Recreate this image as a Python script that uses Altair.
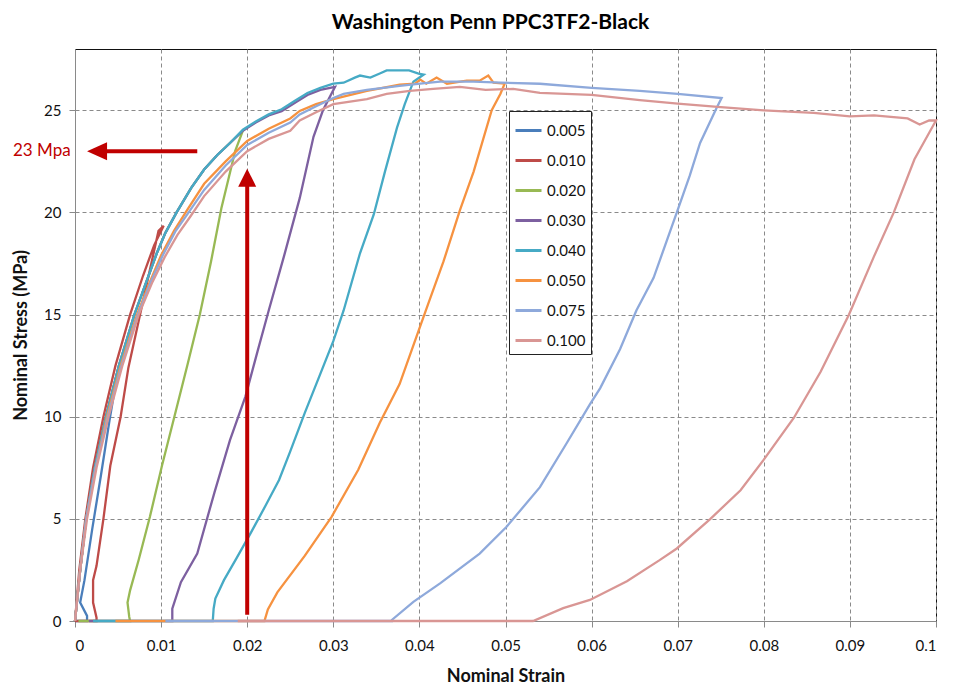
import altair as alt
import pandas as pd

# ---------------- data ----------------
series_names = ["0.005", "0.010", "0.020", "0.030", "0.040", "0.050", "0.075", "0.100"]
series_colors = ["#4A7EBB", "#BE4B48", "#98B954", "#7D60A0", "#46AAC5", "#F69240", "#8EA9DB", "#D99694"]

s005_strain = [0, 0.0006, 0.0013, 0.0023, 0.0036, 0.0050, 0.0040, 0.0030, 0.0020, 0.0011, 0.0006, 0.0014, 0.0014, 0.0]
s005_stress = [0, 2.5, 5.0, 7.5, 10.0, 12.3, 9.8, 7.1, 4.5, 2.0, 0.9, 0.25, 0, 0]

s010_strain = [0, 0.0005, 0.0012, 0.0021, 0.0033, 0.0047, 0.0064, 0.0079, 0.0092, 0.0103, 0.0097, 0.0086,
               0.0074, 0.0062, 0.0053, 0.0041, 0.0033, 0.0025, 0.0021, 0.0021, 0.0025, 0.0025, 0.0]
s010_stress = [0, 2.5, 5.0, 7.5, 10.0, 12.5, 15.0, 16.9, 18.4, 19.35, 19.1, 17.0,
               14.7, 12.4, 10.0, 7.6, 5.0, 2.7, 2.0, 0.9, 0.16, 0, 0]

s020_strain = [0, 0.0006, 0.0013, 0.0023, 0.0036, 0.0051, 0.0069, 0.0082, 0.0095, 0.0105, 0.0118, 0.0135,
               0.0150, 0.0165, 0.0180, 0.0195, 0.0186, 0.0178, 0.0170, 0.0158, 0.0145, 0.0131, 0.0116,
               0.0101, 0.0087, 0.0074, 0.0064, 0.0061, 0.0063, 0.0064, 0.0004]
s020_stress = [0, 2.5, 5.0, 7.5, 10.0, 12.5, 15.0, 16.5, 18.0, 19.0, 20.0, 21.2,
               22.1, 22.8, 23.4, 24.0, 23.0, 21.6, 20.2, 17.6, 15.0, 12.6, 10.1,
               7.6, 5.1, 3.0, 1.5, 0.9, 0.2, 0, 0]

s030_strain = [0, 0.0006, 0.0013, 0.0023, 0.0036, 0.0051, 0.0069, 0.0082, 0.0095, 0.0105, 0.0118, 0.0135,
               0.0150, 0.0165, 0.0180, 0.0195, 0.0210, 0.0225, 0.0240, 0.0255, 0.0270, 0.0285, 0.0302,
               0.0288, 0.0277, 0.0261, 0.0243, 0.0225, 0.0212, 0.0198, 0.0180, 0.0162, 0.0142, 0.0123,
               0.0113, 0.0113, 0.0016]
s030_stress = [0, 2.5, 5.0, 7.5, 10.0, 12.5, 15.0, 16.5, 18.0, 19.0, 20.0, 21.2,
               22.1, 22.8, 23.4, 24.0, 24.4, 24.75, 24.95, 25.35, 25.75, 26.0, 26.15,
               25.0, 23.7, 20.7, 17.9, 15.2, 13.2, 11.0, 8.85, 6.3, 3.3, 1.9,
               0.6, 0, 0]

s040_strain = [0, 0.0006, 0.0013, 0.0023, 0.0036, 0.0051, 0.0069, 0.0082, 0.0095, 0.0105, 0.0118, 0.0135,
               0.0150, 0.0165, 0.0180, 0.0195, 0.0210, 0.0225, 0.0240, 0.0255, 0.0270, 0.0285, 0.0300,
               0.0312, 0.0325, 0.0331, 0.0343, 0.0354, 0.0362, 0.0375, 0.0388, 0.0399, 0.0405,
               0.0393, 0.0383, 0.0374, 0.0360, 0.0347, 0.0331, 0.0312, 0.0300, 0.0284, 0.0267, 0.0250,
               0.0237, 0.0222, 0.0204, 0.0188, 0.0173, 0.0163, 0.0161, 0.0160, 0.0021]
s040_stress = [0, 2.5, 5.0, 7.5, 10.0, 12.5, 15.0, 16.5, 18.0, 19.0, 20.0, 21.2,
               22.1, 22.8, 23.4, 24.05, 24.45, 24.8, 25.05, 25.45, 25.85, 26.1, 26.3,
               26.35, 26.6, 26.7, 26.6, 26.8, 26.95, 26.95, 26.95, 26.8, 26.75,
               26.4, 25.3, 24.15, 22.0, 19.9, 18.0, 15.2, 13.7, 12.0, 10.2, 8.3,
               6.9, 5.7, 4.3, 3.1, 2.0, 1.1, 0.6, 0, 0]

s050_strain = [0, 0.0006, 0.0013, 0.0024, 0.0037, 0.0053, 0.0072, 0.0086, 0.0100, 0.0115, 0.0130, 0.0150,
               0.0175, 0.0200, 0.0225, 0.0250, 0.0261, 0.0280, 0.0300, 0.0339, 0.0377, 0.0395, 0.0401,
               0.0408, 0.0420, 0.0432, 0.0455, 0.0470, 0.0480, 0.0486, 0.0499,
               0.0494, 0.0484, 0.0463, 0.0447, 0.0428, 0.0410, 0.0399, 0.0377, 0.0354, 0.0329, 0.0298,
               0.0267, 0.0235, 0.0224, 0.0220, 0.0047]
s050_stress = [0, 2.5, 5.0, 7.5, 10.0, 12.5, 15.0, 16.5, 17.9, 19.1, 20.1, 21.4,
               22.5, 23.5, 24.1, 24.6, 24.97, 25.3, 25.55, 25.95, 26.25, 26.3, 26.5,
               26.3, 26.6, 26.3, 26.45, 26.45, 26.7, 26.35, 26.3,
               25.8, 25.0, 22.0, 20.1, 17.6, 15.5, 14.2, 11.6, 9.7, 7.4, 5.1,
               3.2, 1.4, 0.57, 0, 0]

s075_strain = [0, 0.0006, 0.0013, 0.0024, 0.0038, 0.0054, 0.0073, 0.0088, 0.0102, 0.0117, 0.0132, 0.0150,
               0.0175, 0.0200, 0.0225, 0.0250, 0.0261, 0.0280, 0.0300, 0.0312, 0.0339, 0.0377, 0.0401,
               0.0424, 0.0463, 0.0494, 0.0540, 0.0600, 0.0656, 0.0700, 0.0751,
               0.0745, 0.0726, 0.0714, 0.0699, 0.0672, 0.0652, 0.0633, 0.0610, 0.0598, 0.0571, 0.0540,
               0.0501, 0.0470, 0.0424, 0.0393, 0.0368, 0.0368, 0.0105]
s075_stress = [0, 2.5, 5.0, 7.5, 10.0, 12.5, 15.0, 16.6, 17.9, 19.1, 20.0, 21.1,
               22.3, 23.3, 23.9, 24.4, 24.8, 25.2, 25.6, 25.8, 26.0, 26.2, 26.3,
               26.4, 26.4, 26.35, 26.3, 26.1, 25.95, 25.8, 25.6,
               25.1, 23.4, 21.8, 20.0, 16.8, 15.2, 13.3, 11.4, 10.6, 8.7, 6.55,
               4.6, 3.3, 1.84, 0.94, 0.05, 0, 0]

s100_strain = [0, 0.0006, 0.0014, 0.0025, 0.0039, 0.0055, 0.0074, 0.0090, 0.0104, 0.0119, 0.0134, 0.0150,
               0.0175, 0.0200, 0.0225, 0.0250, 0.0261, 0.0280, 0.0300, 0.0339, 0.0362, 0.0389, 0.0416,
               0.0447, 0.0477, 0.0509, 0.0540, 0.0600, 0.0656, 0.0700, 0.0750, 0.0800, 0.0858, 0.0900,
               0.0928, 0.0967, 0.0981, 0.0992, 0.1000,
               0.0975, 0.0951, 0.0928, 0.0899, 0.0866, 0.0835, 0.0800, 0.0773, 0.0738, 0.0699, 0.0679,
               0.0641, 0.0598, 0.0567, 0.0532, 0.0189]
s100_stress = [0, 2.5, 5.0, 7.5, 10.0, 12.5, 15.0, 16.6, 17.8, 18.9, 19.8, 20.8,
               22.0, 23.0, 23.6, 24.0, 24.5, 24.9, 25.3, 25.55, 25.8, 25.95, 26.05,
               26.15, 26.0, 26.05, 25.85, 25.75, 25.5, 25.33, 25.15, 25.0, 24.87, 24.7,
               24.75, 24.6, 24.3, 24.5, 24.5,
               22.6, 20.0, 17.85, 15.0, 12.2, 9.95, 7.9, 6.4, 5.0, 3.55, 2.98,
               1.95, 1.03, 0.63, 0, 0]

x_ticks = [0, 0.01, 0.02, 0.03, 0.04, 0.05, 0.06, 0.07, 0.08, 0.09, 0.1]
y_ticks = [0, 5, 10, 15, 20, 25]

# annotations (data coordinates)
h_arrow_strain = [0.0036, 0.0142]
h_arrow_stress = [23.0, 23.0]
h_head_strain = [0.00256]
h_head_stress = [23.0]
v_arrow_strain = [0.02]
v_arrow_stress = [0.3]
v_arrow_stress2 = [21.4]
v_head_strain = [0.02]
v_head_stress = [21.7]
note_text = ["23 Mpa"]
note_strain = [-0.0072]
note_stress = [23.0]

# ---------------- table ----------------
all_strain = [s005_strain, s010_strain, s020_strain, s030_strain, s040_strain, s050_strain, s075_strain, s100_strain]
all_stress = [s005_stress, s010_stress, s020_stress, s030_stress, s040_stress, s050_stress, s075_stress, s100_stress]
rows = []
for k, (name, xs, ys) in enumerate(zip(series_names, all_strain, all_stress)):
    for i, (xv, yv) in enumerate(zip(xs, ys)):
        rows.append({"series": name, "strain": xv, "stress": yv, "idx": i, "sk": k})
df = pd.DataFrame(rows)

RED = "#C00000"
FONT = "Lato"

xscale = alt.Scale(domain=[0, 0.1], nice=False)
yscale = alt.Scale(domain=[0, 28], nice=False)

lines = alt.Chart(df).mark_line(strokeWidth=2.3).encode(
    x=alt.X("strain:Q", scale=xscale,
            axis=alt.Axis(values=x_ticks, format="~g", title="Nominal Strain")),
    y=alt.Y("stress:Q", scale=yscale,
            axis=alt.Axis(values=y_ticks, title="Nominal Stress (MPa)")),
    color=alt.Color("series:N",
                    scale=alt.Scale(domain=series_names, range=series_colors),
                    legend=alt.Legend(title=None, orient="none", legendX=434, legendY=62,
                                      symbolType="stroke", symbolSize=676, symbolStrokeWidth=3,
                                      rowPadding=7, padding=5, labelOffset=4,
                                      labelFont=FONT, labelFontSize=15, labelColor="#111",
                                      fillColor="white", strokeColor="#222")),
    order=alt.Order("idx:Q"),
    detail="series:N",
)

h_rule = alt.Chart(pd.DataFrame({"strain": h_arrow_strain, "stress": h_arrow_stress})).mark_line(
    color=RED, strokeWidth=4).encode(x="strain:Q", y="stress:Q")

v_rule = alt.Chart(pd.DataFrame({"strain": v_arrow_strain, "stress": v_arrow_stress,
                                 "stress2": v_arrow_stress2})).mark_rule(
    color=RED, strokeWidth=4).encode(x="strain:Q", y="stress:Q", y2="stress2:Q")

h_head = alt.Chart(pd.DataFrame({"strain": h_head_strain, "stress": h_head_stress})).mark_point(
    shape="M -1 0 L 1 -0.9 L 1 0.9 Z", size=400, filled=True, color=RED, opacity=1,
    strokeWidth=0).encode(x="strain:Q", y="stress:Q")

v_head = alt.Chart(pd.DataFrame({"strain": v_head_strain, "stress": v_head_stress})).mark_point(
    shape="M 0 -1 L 1 1 L -1 1 Z", size=324, filled=True, color=RED, opacity=1,
    strokeWidth=0).encode(x="strain:Q", y="stress:Q")

note = alt.Chart(pd.DataFrame({"strain": note_strain, "stress": note_stress, "t": note_text})).mark_text(
    align="left", baseline="middle", font=FONT, fontSize=17, color=RED).encode(
    x="strain:Q", y="stress:Q", text="t:N")

chart = alt.layer(lines, h_rule, v_rule, h_head, v_head, note).properties(
    width=861, height=572,
    title=alt.TitleParams("Washington Penn PPC3TF2-Black", font=FONT, fontSize=21,
                          fontWeight="bold", color="#000", anchor="middle", dx=-15, offset=16),
    autosize=alt.AutoSizeParams(type="none"),
    padding={"left": 67, "top": 41, "right": 14, "bottom": 70},
).configure_view(
    stroke="#111", strokeWidth=1
).configure_axis(
    grid=True, gridColor="#8a8a8a", gridDash=[4, 3], gridWidth=1,
    domainColor="#8a8a8a", domainWidth=1, tickColor="#8a8a8a", tickSize=6,
    labelFont=FONT, labelFontSize=15, labelColor="#111",
    titleFont=FONT, titleFontSize=18, titleFontWeight="bold", titleColor="#111",
).configure_axisX(
    labelPadding=11, titlePadding=14
).configure_axisY(
    labelPadding=8, titlePadding=13
)

chart.save("out.html", embed_options={"renderer": "svg", "actions": False})
